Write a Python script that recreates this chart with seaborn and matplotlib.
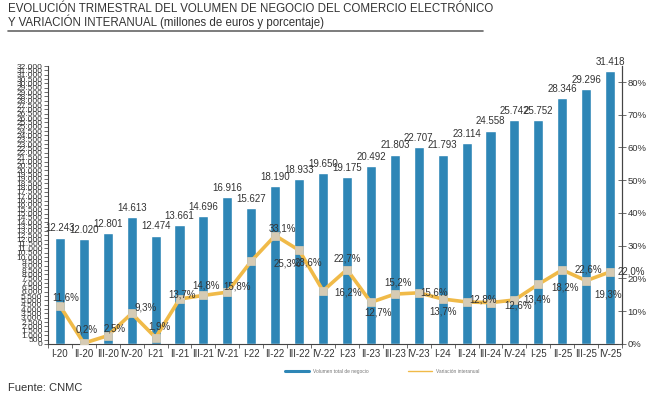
import matplotlib
matplotlib.use("Agg")
import matplotlib.pyplot as plt
from matplotlib.lines import Line2D
import seaborn as sns
import numpy as np
import pandas as pd

quarters = ["I-20", "II-20", "III-20", "IV-20", "I-21", "II-21", "III-21", "IV-21",
            "I-22", "II-22", "III-22", "IV-22", "I-23", "II-23", "III-23", "IV-23",
            "I-24", "II-24", "III-24", "IV-24", "I-25", "II-25", "III-25", "IV-25"]
volumen = [12243, 12020, 12801, 14613, 12474, 13661, 14696, 16916,
           15627, 18190, 18933, 19650, 19175, 20492, 21803, 22707,
           21793, 23114, 24558, 25742, 25752, 28346, 29296, 31418]
variacion = [11.6, 0.2, 2.5, 9.3, 1.9, 13.7, 14.8, 15.8,
             25.3, 33.1, 28.6, 16.2, 22.7, 12.7, 15.2, 15.6,
             13.7, 12.8, 12.6, 13.4, 18.2, 22.6, 19.3, 22.0]
title_lines = ["EVOLUCIÓN TRIMESTRAL DEL VOLUMEN DE NEGOCIO DEL COMERCIO ELECTRÓNICO",
               "Y VARIACIÓN INTERANUAL (millones de euros y porcentaje)"]
legend_labels = ["Volumen total de negocio", "Variación interanual"]
source = "Fuente: CNMC"

# label offsets in points (dx, dy) for the percentage labels (styling only)
pct_offsets = [(4, 6), (2, 10), (5, 5), (10, 4), (3, 8), (2, 3), (2, 7), (7, 4),
               (26, -2), (5, 5), (7, -9), (18, -1), (0, 8), (5, -7), (2, 8), (11, 0),
               (0, -9), (12, 2), (20, -2), (16, 0), (19, -2), (19, 0), (16, -10), (15, 0)]

sns.set_theme(style="ticks")
plt.rcParams["font.family"] = ["Liberation Sans", "DejaVu Sans"]

BLUE = "#2E86B6"
ORANGE = "#F0BA48"
MARK = "#D6CBB4"
TXT = "#333333"

fig = plt.figure(figsize=(6.48, 4.05), dpi=100)
ax = fig.add_axes([0.074, 0.151, 0.886, 0.686])

df = pd.DataFrame({"q": quarters, "v": volumen, "p": [x / 100 for x in variacion]})

sns.barplot(data=df, x="q", y="v", color=BLUE, width=0.42, saturation=1, ax=ax, order=quarters)
ax.set_ylim(0, 32000)
ax.set_xlim(-0.5, len(quarters) - 0.5)
yt = np.arange(0, 32001, 500)
ax.set_yticks(yt)
ax.set_yticklabels([f"{int(v):,}".replace(",", ".") for v in yt], fontsize=6, color=TXT)
ax.tick_params(axis="y", length=3, width=0.6, pad=1, color="#555555")
ax.set_xticks(np.arange(len(quarters)))
ax.set_xticklabels(quarters, fontsize=7, color=TXT)
ax.set_xticks(np.arange(-0.5, len(quarters), 1), minor=True)
ax.tick_params(axis="x", which="major", length=0, pad=4)
ax.tick_params(axis="x", which="minor", length=3, width=0.6, color="#555555")
ax.set_xlabel("")
ax.set_ylabel("")
for c in ax.containers:
    ax.bar_label(c, labels=[f"{int(v):,}".replace(",", ".") for v in volumen],
                 fontsize=7, color=TXT, padding=3)
for s in ["left", "bottom", "right"]:
    ax.spines[s].set_color("#444444")
    ax.spines[s].set_linewidth(0.8)
ax.spines["top"].set_visible(False)

ax2 = ax.twinx()
sns.pointplot(data=df, x="q", y="p", order=quarters, color=ORANGE, ax=ax2,
              markers="s", errorbar=None, linewidth=2.6,
              markersize=4.5, markerfacecolor=MARK, markeredgecolor=MARK)
ax2.set_xlim(-0.5, len(quarters) - 0.5)
ax2.set_ylim(0, 0.849)
ax2.set_yticks(np.arange(0, 0.81, 0.1))
ax2.set_yticklabels([f"{int(round(v * 100))}%" for v in np.arange(0, 0.81, 0.1)],
                    fontsize=6.8, color=TXT)
ax2.tick_params(axis="y", direction="inout", length=6, width=0.6, pad=1, color="#555555")
ax2.set_ylabel("")
ax2.set_xlabel("")
for s in ["top", "left", "bottom"]:
    ax2.spines[s].set_visible(False)
ax2.spines["right"].set_color("#444444")
ax2.spines["right"].set_linewidth(0.8)

for i, (v, off) in enumerate(zip(variacion, pct_offsets)):
    ax2.annotate(f"{v:.1f}%".replace(".", ","), (i, v / 100), xytext=off,
                 textcoords="offset points", ha="center", va="center",
                 fontsize=7, color=TXT)

# title
fig.text(0.012, 0.979, title_lines[0], fontsize=8.3, color=TXT, va="center", ha="left")
fig.text(0.012, 0.947, title_lines[1], fontsize=8.3, color=TXT, va="center", ha="left")
fig.add_artist(Line2D([0.012, 0.745], [0.923, 0.923], color="#666666", lw=1.2,
                      transform=fig.transFigure))

handles = [Line2D([], [], color=BLUE, lw=2.2), Line2D([], [], color=ORANGE, lw=1)]
fig.legend(handles, legend_labels, loc="center", bbox_to_anchor=(0.59, 0.083), ncol=2,
           fontsize=3.5, frameon=False, handlelength=5, columnspacing=8,
           labelcolor="#777777")

fig.text(0.012, 0.042, source, fontsize=8, color=TXT, va="center", ha="left")

fig.savefig("out.png", dpi=100)
